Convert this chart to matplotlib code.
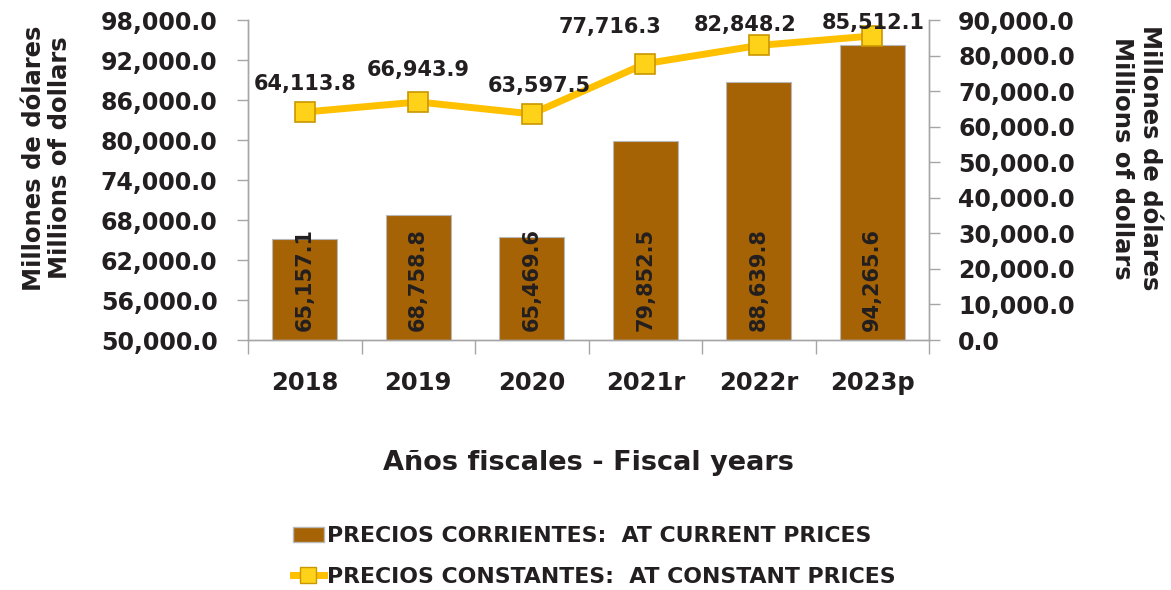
import matplotlib
matplotlib.use("Agg")
import matplotlib.pyplot as plt
from matplotlib.patches import Patch
from matplotlib.lines import Line2D

years = ["2018", "2019", "2020", "2021r", "2022r", "2023p"]
current_prices = [65157.1, 68758.8, 65469.6, 79852.5, 88639.8, 94265.6]
constant_prices = [64113.8, 66943.9, 63597.5, 77716.3, 82848.2, 85512.1]
left_ticks = [50000, 56000, 62000, 68000, 74000, 80000, 86000, 92000, 98000]
right_ticks = [0, 10000, 20000, 30000, 40000, 50000, 60000, 70000, 80000, 90000]

ylabel_text = "Millones de dólares\nMillions of dollars"
xlabel_text = "Años fiscales - Fiscal years"
legend_bar = "PRECIOS CORRIENTES:  AT CURRENT PRICES"
legend_line = "PRECIOS CONSTANTES:  AT CONSTANT PRICES"

# label offsets in pixels (dx, dy to baseline)
line_label_offsets = [(0, 22), (0, 26), (8, 22), (-35, 31), (-14, 14), (1, 7)]

plt.rcParams['font.family'] = ['DejaVu Sans']
plt.rcParams['font.weight'] = 'bold'
TXT = '#231F20'
GRAY = '#A6A6A6'
BAR = '#A66305'
LINE = '#FFC000'

fig = plt.figure(figsize=(11.71, 5.90), dpi=100)
ax = fig.add_axes([248/1171, 1-340/590, (929-248)/1171, 320/590])
ax2 = ax.twinx()

x = list(range(len(years)))
ax.bar(x, current_prices, width=0.57, bottom=0, color=BAR, edgecolor='#B8B8B8', linewidth=0.8, zorder=2)
ax.set_ylim(50000, 98000)
ax.set_xlim(-0.5, len(years) - 0.5)
ax.set_yticks(left_ticks)
ax.set_yticklabels([f"{v:,.1f}" for v in left_ticks], fontsize=17, fontweight='bold', color=TXT)

for xi, v in zip(x, current_prices):
    ax.annotate(f"{v:,.1f}", xy=(xi, 50000), xytext=(0, 9), textcoords='offset pixels',
                rotation=90, ha='center', va='bottom', fontsize=15, fontweight='bold', color=TXT, zorder=5)

ax2.plot(x, constant_prices, color=LINE, linewidth=5, marker='s', markersize=15,
         markerfacecolor='#FFD21A', markeredgecolor='#C99700', markeredgewidth=1.2, zorder=4)
ax2.set_ylim(0, 90000)
ax2.set_yticks(right_ticks)
ax2.set_yticklabels([f"{v:,.1f}" for v in right_ticks], fontsize=17, fontweight='bold', color=TXT)
for xi, v, (dx, dy) in zip(x, constant_prices, line_label_offsets):
    ax2.annotate(f"{v:,.1f}", xy=(xi, v), xytext=(dx, dy), textcoords='offset pixels',
                 ha='center', va='baseline', fontsize=15, fontweight='bold', color=TXT, zorder=6)

# x axis
ax.set_xticks(x)
ax.set_xticklabels(years, fontsize=17.5, fontweight='bold', color=TXT)
ax.set_xticks([i + 0.5 for i in range(-1, len(years))], minor=True)
ax.tick_params(axis='x', which='major', length=0, pad=22)
ax.tick_params(axis='x', which='minor', length=10, color=GRAY, width=1)
ax.tick_params(axis='y', length=8, color=GRAY, width=1, pad=14)
ax2.tick_params(axis='y', length=8, color=GRAY, width=1, pad=13)

for a in (ax, ax2):
    a.spines['top'].set_visible(False)
    for s in ('left', 'right', 'bottom'):
        a.spines[s].set_color(GRAY)
        a.spines[s].set_linewidth(1)

ax.set_xlabel(xlabel_text, fontsize=19.5, fontweight='bold', color=TXT, labelpad=40)
fig.text(47/1171, 1-158/590, ylabel_text, rotation=90, ha='center', va='center',
         fontsize=17.5, fontweight='bold', color=TXT, linespacing=1.15)
fig.text(1136/1171, 1-158/590, ylabel_text, rotation=-90, ha='center', va='center',
         fontsize=17.5, fontweight='bold', color=TXT, linespacing=1.2)

handles = [Patch(facecolor=BAR, edgecolor='#B8B8B8'),
           Line2D([0], [0], color=LINE, linewidth=5, marker='s', markersize=11,
                  markerfacecolor='#FFD21A', markeredgecolor='#C99700')]
fig.legend(handles, [legend_bar, legend_line], loc='upper left',
           bbox_to_anchor=(282/1171, 1-515/590), frameon=False, borderpad=0,
           labelspacing=0.95, handlelength=1.4, handletextpad=0.15,
           prop={'weight': 'bold', 'size': 15.8}, labelcolor=TXT)

fig.savefig("out.png", dpi=100)
